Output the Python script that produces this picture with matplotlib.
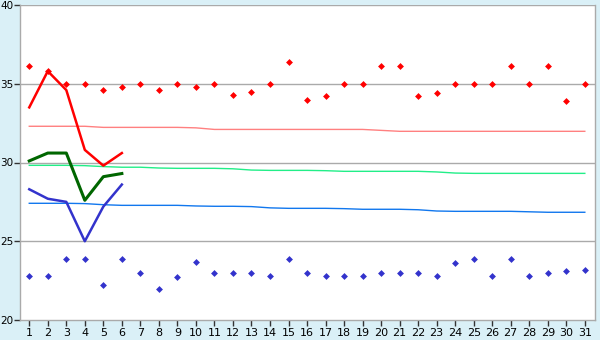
import matplotlib
matplotlib.use("Agg")
import matplotlib.pyplot as plt
import numpy as np

days = list(range(1, 32))
high_pts = [36.1, 35.8, 35.0, 35.0, 34.6, 34.8, 35.0, 34.6, 35.0, 34.8,
            35.0, 34.3, 34.5, 35.0, 36.4, 34.0, 34.2, 35.0, 35.0, 36.1,
            36.1, 34.2, 34.4, 35.0, 35.0, 35.0, 36.1, 35.0, 36.1, 33.9, 35.0]
low_pts = [22.8, 22.8, 23.9, 23.9, 22.2, 23.9, 23.0, 22.0, 22.7, 23.7,
           23.0, 23.0, 23.0, 22.8, 23.9, 23.0, 22.8, 22.8, 22.8, 23.0,
           23.0, 23.0, 22.8, 23.6, 23.9, 22.8, 23.9, 22.8, 23.0, 23.1, 23.2]
line_days = [1, 2, 3, 4, 5, 6]
high_line = [33.5, 35.8, 34.6, 30.8, 29.8, 30.6]
mean_line = [30.1, 30.6, 30.6, 27.6, 29.1, 29.3]
low_line = [28.3, 27.7, 27.5, 25.0, 27.2, 28.6]
norm_high = [32.30, 32.30, 32.30, 32.30, 32.23, 32.23, 32.23, 32.23, 32.23, 32.20,
             32.10, 32.10, 32.10, 32.10, 32.10, 32.10, 32.10, 32.10, 32.10, 32.04,
             31.98, 31.98, 31.98, 31.98, 31.98, 31.98, 31.98, 31.98, 31.98, 31.98, 31.98]
norm_mean = [29.82, 29.82, 29.82, 29.80, 29.74, 29.70, 29.70, 29.65, 29.63, 29.63,
             29.63, 29.60, 29.52, 29.50, 29.50, 29.50, 29.48, 29.44, 29.44, 29.44,
             29.44, 29.44, 29.40, 29.33, 29.31, 29.31, 29.31, 29.31, 29.31, 29.31, 29.31]
norm_low = [27.41, 27.41, 27.41, 27.39, 27.32, 27.28, 27.28, 27.28, 27.28, 27.24,
            27.22, 27.22, 27.20, 27.12, 27.09, 27.09, 27.09, 27.07, 27.03, 27.03,
            27.03, 27.00, 26.92, 26.90, 26.90, 26.90, 26.90, 26.87, 26.84, 26.84, 26.84]

bg = "#daf0f7"
fig = plt.figure(figsize=(6, 3.4), dpi=100, facecolor=bg)
ax = fig.add_axes([20/600, 20/340, 575/600, 315/340])
ax.set_facecolor("white")

for y in [25, 30, 35, 40]:
    ax.axhline(y, color="#aaaaaa", lw=1.0, zorder=1)

ax.plot(days, norm_high, color="#ff8080", lw=1.0, zorder=2)
ax.plot(days, norm_mean, color="#22ee88", lw=1.0, zorder=2)
ax.plot(days, norm_low, color="#1177ee", lw=1.0, zorder=2)

ax.plot(line_days, high_line, color="#ff0000", lw=1.8, zorder=3)
ax.plot(line_days, mean_line, color="#006600", lw=2.2, zorder=3)
ax.plot(line_days, low_line, color="#3333cc", lw=1.8, zorder=3)

ax.plot(days, high_pts, ls="none", marker="D", ms=3.5, color="#ff0000", mew=0, zorder=4)
ax.plot(days, low_pts, ls="none", marker="D", ms=3.5, color="#3333cc", mew=0, zorder=4)

ax.set_xlim(0.5, 31.55)
ax.set_ylim(20, 40)
ax.set_xticks(days)
ax.set_xticklabels([str(d) for d in days])
ax.set_yticks([20, 25, 30, 35, 40])
ax.spines["top"].set_visible(False)
for s in ["left", "right", "bottom"]:
    ax.spines[s].set_color("#aaaaaa")
    ax.spines[s].set_linewidth(1.0)
ax.tick_params(axis="x", direction="out", length=4, width=1, color="#333333",
               labelsize=8, labelcolor="#000000", pad=2)
ax.tick_params(axis="y", direction="out", length=4, width=1, color="#333333",
               labelsize=7.5, labelcolor="#000000", pad=0.5)
plt.savefig("out.png", dpi=100, facecolor=bg)
